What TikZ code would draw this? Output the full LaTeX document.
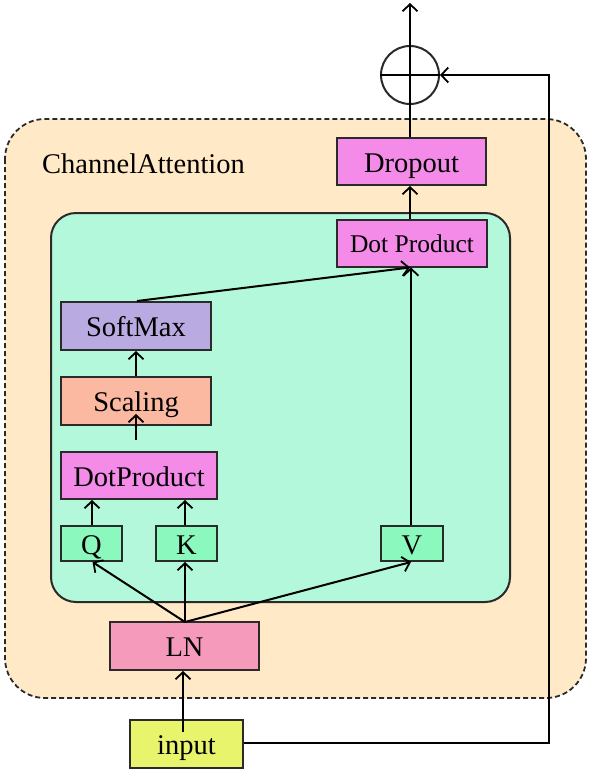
\documentclass[tikz,border=0pt]{standalone}
\usepackage{fontspec}
\setmainfont{Liberation Serif}
\usetikzlibrary{arrows.meta,calc}
\definecolor{outerfill}{HTML}{FFE9C6}
\definecolor{innerfill}{HTML}{B3F8DA}
\definecolor{magbox}{HTML}{F58BE9}
\definecolor{softbox}{HTML}{BAAAE2}
\definecolor{scalebox}{HTML}{FBB9A1}
\definecolor{qkvbox}{HTML}{8BF9BE}
\definecolor{lnbox}{HTML}{F59ABA}
\definecolor{inbox}{HTML}{E8F56C}
\definecolor{edge}{HTML}{2A2A2A}
\begin{document}
\begin{tikzpicture}[x=1pt,y=-1pt,
  blk/.style={draw=edge,line width=2pt,inner sep=0pt,text height=21pt,text depth=0pt,font=\fontsize{28.5}{30}\selectfont},
  arr/.style={line width=2pt,-{Straight Barb[length=7pt,width=15pt,line width=1.8pt]}},
  ln/.style={line width=2pt}]
\useasboundingbox (0,0) rectangle (590,772);
% containers
\draw[dash pattern=on 5pt off 3pt,draw=edge,line width=1.8pt,fill=outerfill,rounded corners=40pt] (5,119) rectangle (586,698);
\draw[draw=edge,line width=2pt,fill=innerfill,rounded corners=25pt] (51,213) rectangle (510,602);
\node[anchor=base west,font=\fontsize{28.5}{30}\selectfont,inner sep=0pt] (title) at (42,173) {ChannelAttention};
% boxes
\node[blk,fill=magbox,minimum width=149pt,minimum height=47pt] (dropout) at (411.5,161.5) {Dropout};
\node[blk,fill=magbox,minimum width=150pt,minimum height=47pt,font=\fontsize{25.5}{28}\selectfont,text height=19pt] (dotp) at (412,243) {Dot Product};
\node[blk,fill=softbox,minimum width=150pt,minimum height=48pt] (softmax) at (136,326) {SoftMax};
\node[blk,fill=scalebox,minimum width=150pt,minimum height=48pt] (scaling) at (136,401) {Scaling};
\node[blk,fill=magbox,minimum width=156pt,minimum height=47pt] (dp2) at (139,475.5) {DotProduct};
\node[blk,fill=qkvbox,minimum width=61pt,minimum height=35pt] (q) at (91.5,543.5) {Q};
\node[blk,fill=qkvbox,minimum width=61pt,minimum height=35pt] (k) at (186.5,543.5) {K};
\node[blk,fill=qkvbox,minimum width=62pt,minimum height=35pt] (v) at (412,543.5) {V};
\node[blk,fill=lnbox,minimum width=149pt,minimum height=48pt] (ln) at (184.5,646) {LN};
\node[blk,fill=inbox,minimum width=113pt,minimum height=48pt] (input) at (186.5,744) {input};
\node[draw=edge,line width=2pt,circle,minimum size=58pt,inner sep=0pt] (plus) at (410,75) {};
\coordinate (top) at (410,3);
\coordinate (lnup) at (185,622);
\coordinate (inup) at (183,732);
\coordinate (scup) at (136,440);
\coordinate (sctip) at (136,414);
\coordinate (skip1) at (549,743);
\coordinate (skip2) at (549,75);
% connectors
\draw[arr] (inup) -- (inup |- ln.south);
\draw[arr] (lnup) -- ([xshift=1pt]q.south);
\draw[arr] (lnup) -- (lnup |- k.south);
\draw[arr] (lnup) -- ([xshift=-1pt]v.south);
\draw[arr] ([xshift=0.5pt]q.north) -- ([xshift=0.5pt]q.north |- dp2.south);
\draw[arr] ([xshift=-1.5pt]k.north) -- ([xshift=-1.5pt]k.north |- dp2.south);
\draw[arr] (scup) -- (sctip);
\draw[arr] (scaling.north) -- (softmax.south);
\draw[arr] ([xshift=1pt]softmax.north) -- ([xshift=-2pt]dotp.south);
\draw[arr] ([xshift=-1pt]v.north) -- ([xshift=-1pt]v.north |- dotp.south);
\draw[arr] ([xshift=-2pt]dotp.north) -- ([xshift=-2pt]dotp.north |- dropout.south);
\draw[arr] ([xshift=-1.5pt]dropout.north) -- (top);
\draw[ln] (plus.west) -- (plus.east);
\draw[arr] (input.east |- skip1) -- (skip1) -- (skip2) -- (plus.east);
\end{tikzpicture}
\end{document}
